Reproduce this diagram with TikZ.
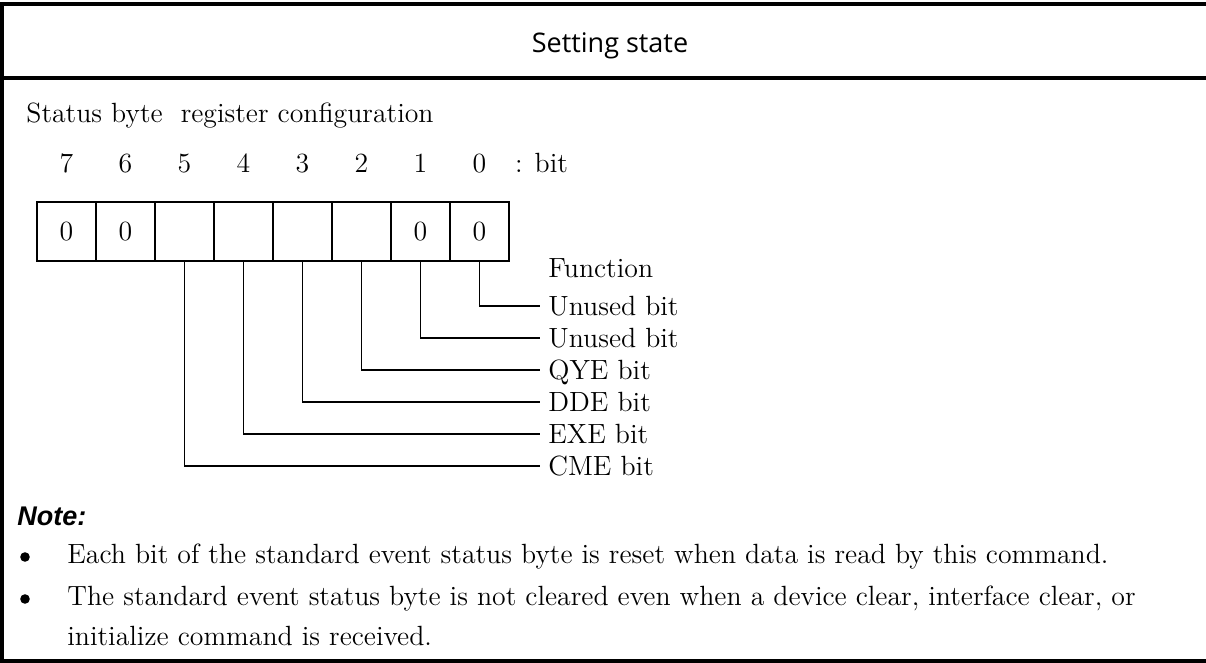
\documentclass[tikz,border=0pt]{standalone}
\usepackage{fontspec}
\newfontfamily\headsans{Open Sans}
\newfontfamily\notesans{Liberation Sans}
\usetikzlibrary{positioning}

\begin{document}
\begin{tikzpicture}[x=0.5pt,y=-0.5pt,
		every node/.style={font=\fontsize{13.9}{16}\selectfont},
		frame/.style={line width=2pt},
		cell/.style={draw,line width=0.9pt,minimum size=29.5pt,inner sep=0pt,outer sep=0pt},
		bitno/.style={inner sep=0pt},
		wire/.style={line width=0.8pt},
		lbl/.style={anchor=west,inner xsep=4pt,inner ysep=0pt,text height=9.5pt,text depth=0pt},
		txt/.style={anchor=base west,inner sep=0pt},
		dot/.style={circle,fill,inner sep=0pt,minimum size=4.8pt}]
		
		\useasboundingbox (0,0) rectangle (1206,663);
		
		% outer frame and heading
		\draw[frame] (1206,4) -- (2,4) -- (2,661) -- (1206,661);
		\draw[frame] (2,78) -- (1206,78);
		\node[font=\headsans\fontsize{13.5}{16}\selectfont,anchor=base] (head) at (610,53) {Setting state};
		
		\node[txt] (title) at (26,123) {Status byte~ register configuration};
		
		% register cells
		\node[cell] (c7) at (66.5,231.5) {0};
		\node[cell] (c6) [right=0pt of c7] {0};
		\node[cell] (c5) [right=0pt of c6] {};
		\node[cell] (c4) [right=0pt of c5] {};
		\node[cell] (c3) [right=0pt of c4] {};
		\node[cell] (c2) [right=0pt of c3] {};
		\node[cell] (c1) [right=0pt of c2] {0};
		\node[cell] (c0) [right=0pt of c1] {0};
		
		\node[bitno] (n7) [above=14.5pt of c7] {7};
		\node[bitno] (n6) [above=14.5pt of c6] {6};
		\node[bitno] (n5) [above=14.5pt of c5] {5};
		\node[bitno] (n4) [above=14.5pt of c4] {4};
		\node[bitno] (n3) [above=14.5pt of c3] {3};
		\node[bitno] (n2) [above=14.5pt of c2] {2};
		\node[bitno] (n1) [above=14.5pt of c1] {1};
		\node[bitno] (n0) [above=14.5pt of c0] {0};
		\node[bitno] (unit) [right=14pt of n0] {: bit};
		
		% function labels
		\node[lbl] (fn) at (540,268) {Function};
		\node[lbl] (lb0) at (540,306) {Unused bit};
		\node[lbl] (lb1) at (540,338) {Unused bit};
		\node[lbl] (lb2) at (540,370) {QYE bit};
		\node[lbl] (lb3) at (540,402) {DDE bit};
		\node[lbl] (lb4) at (540,434) {EXE bit};
		\node[lbl] (lb5) at (540,466) {CME bit};
		
		\draw[wire] (c0.south) |- (lb0.west);
		\draw[wire] (c1.south) |- (lb1.west);
		\draw[wire] (c2.south) |- (lb2.west);
		\draw[wire] (c3.south) |- (lb3.west);
		\draw[wire] (c4.south) |- (lb4.west);
		\draw[wire] (c5.south) |- (lb5.west);
		
		% note
		\node[txt,font=\notesans\fontsize{13.5}{16}\selectfont\bfseries\itshape] (note) at (17,525) {Note:};
		\node[dot] (b1) at (25,557) {};
		\node[txt] (t1) at (67,563) {Each bit of the standard event status byte is reset when data is read by this command.};
		\node[dot] (b2) at (25,599) {};
		\node[txt] (t2) at (67,605) {The standard event status byte is not cleared even when a device clear, interface clear, or};
		\node[txt] (t3) at (67,645) {initialize command is received.};
		
	\end{tikzpicture}
\end{document}
